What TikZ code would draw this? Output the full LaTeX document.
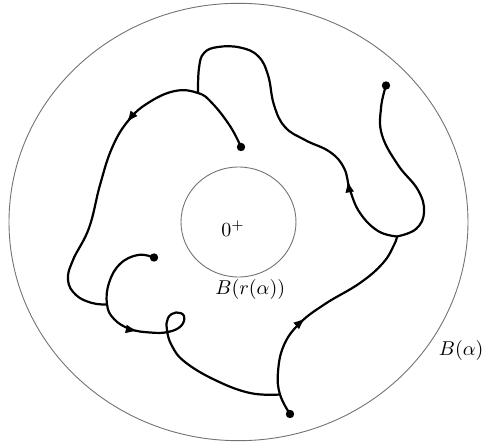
\documentclass[tikz,border=0pt]{standalone}
\usetikzlibrary{decorations.markings,arrows.meta}
\begin{document}
\begin{tikzpicture}[x=0.5pt,y=-0.5pt,
  ring/.style={draw=black!55,line width=0.45pt},
  walk/.style={line width=1.1pt,line cap=round,line join=round},
  midarrow/.style={postaction={decorate},decoration={markings,mark=at position #1 with {\arrow{Latex[length=6pt,width=4.5pt]}}}},
  dotpt/.style={circle,fill=black,inner sep=0pt,minimum size=4.2pt},
  lab/.style={inner sep=0pt,anchor=base west}]
\useasboundingbox (0,0) rectangle (483,444);
% balls
\draw[ring] (238.5,222) ellipse [x radius=114.75pt, y radius=109.35pt];
\draw[ring] (238.5,222) ellipse [x radius=28.75pt, y radius=27.5pt];
\node[lab] (zero) at (221,237) {$0^+$};
\node[lab] (small) at (215,295) {$B(r(\alpha))$};
\node[lab] (big) at (438.5,356) {$B(\alpha)$};
% end points
\node[dotpt] (a) at (241,147) {};
\node[dotpt] (b) at (386,85.5) {};
\node[dotpt] (c) at (290,414) {};
\node[dotpt] (d) at (154,257.5) {};
% junctions
\coordinate (j1) at (198,93);
\coordinate (j2) at (107,304.5);
\coordinate (j3) at (397,236.5);
\coordinate (j4) at (280,394.5);
% paths
\draw[walk,midarrow=0.41] plot[smooth,tension=0.7] coordinates {(a.center) (230,126) (212,103) (j1) (175,91) (148,103) (128,121) (112,148) (100,185) (89,228) (73,260) (68,280) (76,295) (92,303) (j2)};
\draw[walk,midarrow=0.235] plot[smooth,tension=0.7] coordinates {(j3) (378,231) (360,213) (350,190) (344,168) (330,152) (305,140) (285,127) (274,105) (268,75) (258,56) (240,47.5) (218,47) (204,53) (199,68) (j1)};
\draw[walk] plot[smooth,tension=0.7] coordinates {(b.center) (381,108) (382,135) (398,165) (418,190) (424,212) (416,229) (j3)};
\draw[walk,midarrow=0.46] plot[smooth,tension=0.7] coordinates {(c.center) (j4) (278,372) (284,345) (300,323) (325,304) (360,283) (383,263) (394,245) (j3)};
\draw[walk,midarrow=0.353] plot[smooth,tension=0.7] coordinates {(d.center) (138,255) (120,264) (109,283) (j2) (114,319) (130,329) (150,332.5) (168,332) (181,326) (184,316) (176,312.5) (168,318) (167,330) (172,346) (185,362) (215,380) (250,393) (j4)};
\end{tikzpicture}
\end{document}
